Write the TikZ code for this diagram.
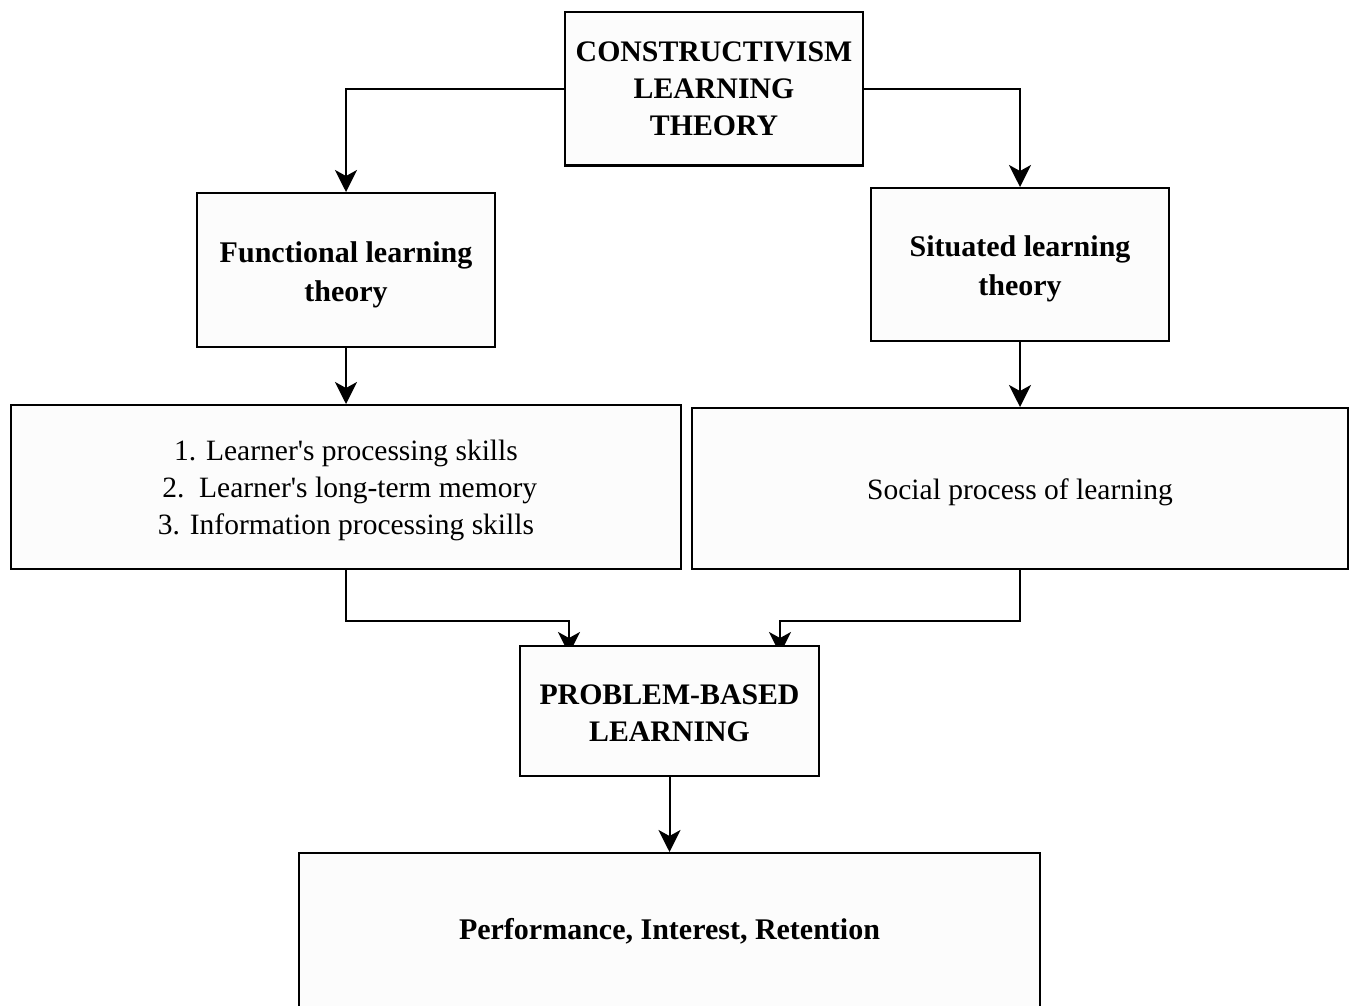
\documentclass[tikz,border=0pt]{standalone}
\usepackage{fontspec}
\setmainfont{Liberation Serif}
\usetikzlibrary{arrows.meta}
\pgfdeclarelayer{bg}
\pgfsetlayers{bg,main}
\begin{document}
\begin{tikzpicture}[x=1pt,y=-1pt,
  box/.style={draw=black, line width=2pt, fill=black!1, align=center, inner sep=0pt},
  conn/.style={line width=2pt, -{Stealth[length=22pt,width=22pt,inset=6pt]}},
  bigbold/.style={font=\fontsize{29.8}{37}\selectfont\bfseries},
  midbold/.style={font=\fontsize{30}{39}\selectfont\bfseries},
  plain/.style={font=\fontsize{29.5}{37}\selectfont}]
\useasboundingbox (0,0) rectangle (1352,1006);
\node[box, bigbold, minimum width=298pt, minimum height=153pt] (top) at (714,89) {CONSTRUCTIVISM\\LEARNING\\THEORY};
\node[box, midbold, minimum width=298pt, minimum height=154pt] (func) at (346,270) {\rule{0pt}{30pt}Functional learning\\theory};
\node[box, midbold, minimum width=298pt, minimum height=153pt] (sit) at (1020,264.5) {\rule{0pt}{30pt}Situated learning\\theory};
\node[box, plain, minimum width=670pt, minimum height=164pt] (list) at (346,487) {\rule{0pt}{27pt}1. Learner\textquotesingle s processing skills\\\ 2.\ \ Learner\textquotesingle s long-term memory\\3. Information processing skills};
\node[box, plain, minimum width=656pt, minimum height=161pt] (social) at (1020,488.5) {\rule{0pt}{28pt}Social process of learning};
\node[box, bigbold, minimum width=299pt, minimum height=130pt] (pbl) at (669.5,711) {\rule{0pt}{25pt}PROBLEM-BASED\\LEARNING};
\node[box, midbold, minimum width=741pt, minimum height=156pt] (res) at (669.5,931) {Performance, Interest, Retention};
\coordinate (pl) at ([xshift=50pt,yshift=-9pt]pbl.north west);
\coordinate (pr) at ([xshift=-40pt,yshift=-9pt]pbl.north east);
\draw[conn] (top.west) -| (func.north);
\draw[conn] (top.east) -| (sit.north);
\draw[conn] (func.south) -- (list.north);
\draw[conn] (sit.south) -- (social.north);
\begin{pgfonlayer}{bg}
\draw[conn] (list.south) -- ++(0,51) -| (pl);
\draw[conn] (social.south) -- ++(0,51) -| (pr);
\end{pgfonlayer}
\draw[conn] (pbl.south) -- (res.north);
\end{tikzpicture}
\end{document}
